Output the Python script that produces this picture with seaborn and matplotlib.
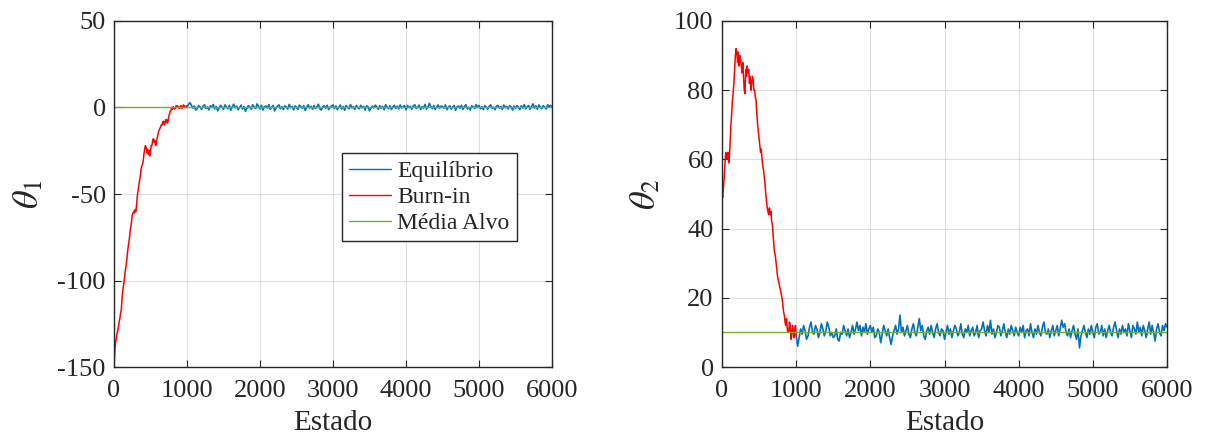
import numpy as np
import matplotlib
matplotlib.use("Agg")
import matplotlib.pyplot as plt
import seaborn as sns

# ---------------- data ----------------
burn_states = list(range(0, 1001, 10))
eq_states = list(range(1000, 6001, 20))
target_states = [0, 6000]

theta1_burn = [-150, -142, -136, -134, -131, -129, -127, -124, -122, -119,
               -117, -110, -106, -103, -100, -96, -93, -90, -86, -82,
               -79, -76, -72, -69, -66, -62, -61, -60, -61, -59,
               -60, -56, -51, -48, -45, -42, -40, -36, -34, -33,
               -31, -27, -24, -22, -23, -26, -24, -27, -25, -28,
               -25, -22, -22, -19, -18, -20, -19, -22, -21, -18,
               -16, -14, -13, -12, -11, -10, -10, -8, -8, -10,
               -9, -7, -7, -9, -8, -5, -4, -2, -2, 0,
               -1, 0.5, 0, -1, -0.5, 1, 0, 1, 0.5, -0.5,
               -0.5, 1, 1, -0.5, 0, 1.5, 1.2, 0, 0.3, 1, 0.5]

theta1_eq = [0.5, 1.8, 2.8, 1.2, -0.3, 0.9, -1.5, -0.6, 1.1, 0.4, -1.2, 0.8, 1.6, -0.5, 0.3, -1.4, 1.0, 0.2, 1.7, -0.8, 0.6, -1.9, -0.4, 1.3, 0.1,
             -1.0, 1.5, 0.4, -0.7, 1.2, -1.6, 0.5, 1.9, -0.2, 0.8, -1.3, 0.0, 1.4, -0.9, 0.6, -2.2, -0.5, 1.1, 0.3, -1.1, 1.6, 0.2, -0.6, 2.1, 0.7,
             -0.8, 1.3, -1.5, 0.4, 0.9, -0.4, 1.7, -1.0, 0.2, 1.2, -2.0, -0.3, 0.8, 1.5, -0.7, 0.5, -1.2, 1.0, 0.3, -0.9, 1.8, -0.1, 0.6, -1.4, 0.9,
             0.2, -1.1, 1.4, 0.6, -0.5, 1.1, -1.7, 0.3, 1.6, -0.3, 0.7, -1.0, 1.2, -0.6, 0.4, 1.9, -0.8, -1.5, 0.5, 1.0, -0.4, 1.3, -1.2, 0.1, 0.8,
             1.5, -0.6, 0.9, -1.3, 0.3, 1.4, -0.9, 0.6, -1.6, 1.1, 0.2, -0.7, 1.7, -0.3, 0.5, -1.1, 1.2, 0.0, -0.8, 1.3, -0.2, 0.7, -1.4, 1.0, 0.4,
             -1.8, -0.5, 0.9, -0.2, 1.4, 0.3, -1.0, 1.1, -0.4, 0.6, -1.3, 1.6, 0.2, -0.7, 1.0, -1.2, 0.4, 1.3, -0.5, 0.8, -0.9, 1.5, -0.3, 0.5, 1.1,
             -1.4, 1.2, -0.1, 0.7, -1.0, 0.9, 1.6, -0.6, 0.2, 1.4, -1.2, 0.5, -0.4, 1.8, -0.9, 0.3, 2.4, 0.6, -0.7, 1.1, -1.1, 0.4, 1.5, -0.5, 0.8,
             0.6, -0.4, 1.5, -1.3, 0.2, 1.0, -0.9, 0.5, 1.2, -1.6, 0.3, 0.9, -0.5, 1.3, -1.1, 0.7, 1.6, -0.8, 0.1, -1.4, 1.0, 0.4, -0.6, 1.7, 0.0,
             1.2, -0.7, 0.5, -1.2, 1.1, 0.3, -1.0, 0.8, 1.5, -0.5, 0.2, -1.3, 0.9, 1.2, -0.4, 0.6, -1.1, 1.4, -0.2, 0.7, -0.9, 1.0, 0.4, -1.5, 0.8,
             -0.6, 1.1, 0.3, -1.2, 1.0, -0.3, 1.7, -0.8, 0.5, 1.2, -1.0, 0.6, 2.1, -0.4, 0.9, -1.0, 1.5, 0.3, -0.7, 1.1, 0.2, -0.9, 1.6, 0.4, 1.2,
             0.7]

theta2_burn = [50, 49, 52, 55, 59, 62, 61, 60, 62, 59,
               61, 65, 70, 73, 77, 79, 82, 86, 90, 92,
               91, 88, 91, 87, 90, 89, 87, 85, 88, 84,
               80, 79, 86, 84, 87, 85, 86, 82, 84, 80,
               82, 84, 83, 80, 80, 78, 77, 73, 70, 68,
               66, 64, 62, 63, 60, 58, 57, 55, 53, 50,
               48, 46, 45, 44, 46, 44, 45, 42, 41, 38,
               35, 33, 32, 30, 28, 26, 25, 24, 23, 22,
               21, 20, 18, 16, 15, 13, 12, 14, 11, 10,
               10, 13, 12, 8, 9, 12, 11, 8.5, 10, 12, 9]

theta2_eq = [9, 6, 8.5, 11, 9.5, 12, 10.5, 8, 9, 11.5, 13, 10, 9.5, 12, 11, 8.5, 10, 12.5, 11, 9, 10.5, 13, 11.5, 9, 10,
             8.5, 9, 11, 8, 7.5, 10, 9.5, 12, 10.5, 9, 11, 8.5, 10, 12, 9.5, 11, 13, 10.5, 12, 9, 11.5, 10, 12.5, 9.5, 11,
             12, 10, 11.5, 8.5, 9, 11, 10, 7, 9.5, 12, 10.5, 9, 11, 8.5, 6.5, 9, 10.5, 12, 9.5, 11, 15, 10, 11.5, 9, 10.5,
             12, 9.5, 8.5, 11, 12.5, 10, 9, 11.5, 14, 10.5, 12, 9, 8, 10.5, 11.5, 9.5, 12, 10, 8.5, 11, 12.5, 10, 9, 11, 10.5,
             8, 10, 12, 9.5, 11, 8.5, 10.5, 12, 11, 9, 10, 12.5, 9.5, 8.5, 11, 10, 12, 9, 10.5, 11.5, 9, 10, 12, 8.5, 10.5,
             11, 13, 10.5, 9, 12, 10, 13.5, 9.5, 11, 8.5, 10, 12, 11.5, 9, 10.5, 12.5, 10, 8.5, 11, 9.5, 12, 10.5, 9, 11.5, 10,
             9, 11.5, 10, 12, 8.5, 10.5, 11, 9, 12.5, 10, 8.5, 11, 9.5, 12, 10, 9, 11.5, 13, 10, 9.5, 11, 8.5, 10.5, 12, 9,
             10.5, 12, 9, 11, 13.5, 11.5, 12.5, 10, 9, 11, 8.5, 10.5, 12, 9.5, 8, 11, 5.5, 9, 10.5, 12, 10, 8.5, 11, 9.5, 12,
             10, 8.5, 11.5, 12.5, 9.5, 10, 12, 9, 11, 8.5, 10.5, 12, 10, 9, 11.5, 13, 10.5, 8.5, 11, 9.5, 12, 10, 11, 9, 12.5,
             10.5, 8.5, 12, 11, 9.5, 13, 10, 11.5, 9, 12, 10.5, 8.5, 11, 13, 9.5, 12, 10, 7.5, 11, 12.5, 10, 9, 12, 10.5, 12.5,
             11.5]

target_theta1 = [0, 0]
target_theta2 = [10, 10]

labels = ["Equilíbrio", "Burn-in", "Média Alvo"]
ylabels = [r"$\theta_1$", r"$\theta_2$"]
xlabel = "Estado"
xticks = [0, 1000, 2000, 3000, 4000, 5000, 6000]
yticks1 = [-150, -100, -50, 0, 50]
yticks2 = [0, 20, 40, 60, 80, 100]

# ---------------- style ----------------
sns.set_theme(style="white")
plt.rcParams["font.family"] = ["Liberation Serif", "DejaVu Serif"]
plt.rcParams["mathtext.fontset"] = "stix"

c_eq = "#0072BD"
c_burn = "#FF0000"
c_target = "#77AC30"
axcol = "#262626"

fig = plt.figure(figsize=(12.06, 4.36), dpi=100)
ax1 = fig.add_axes([114 / 1206, 1 - 367 / 436, 438 / 1206, 346 / 436])
ax2 = fig.add_axes([722 / 1206, 1 - 367 / 436, 445 / 1206, 346 / 436])

panels = [
    (ax1, theta1_eq, theta1_burn, target_theta1, yticks1, ylabels[0]),
    (ax2, theta2_eq, theta2_burn, target_theta2, yticks2, ylabels[1]),
]

for ax, eq, burn, tgt, yt, yl in panels:
    sns.lineplot(x=eq_states, y=eq, ax=ax, color=c_eq, linewidth=1.2, label=labels[0])
    sns.lineplot(x=burn_states, y=burn, ax=ax, color=c_burn, linewidth=1.1, label=labels[1])
    sns.lineplot(x=target_states, y=tgt, ax=ax, color=c_target, linewidth=1.0, label=labels[2])
    ax.set_xlim(0, 6000)
    ax.set_ylim(yt[0], yt[-1])
    ax.set_xticks(xticks)
    ax.set_yticks(yt)
    ax.set_xticklabels([str(v) for v in xticks])
    ax.set_yticklabels([str(v) for v in yt])
    ax.grid(True, color="#000000", alpha=0.12, linewidth=0.8)
    ax.set_axisbelow(True)
    for s in ax.spines.values():
        s.set_visible(True)
        s.set_color(axcol)
        s.set_linewidth(1.0)
    ax.tick_params(direction="in", length=5, width=0.8, colors=axcol,
                   top=True, right=True, bottom=True, left=True,
                   labelsize=19, labelcolor=axcol)
    ax.tick_params(axis="x", pad=9)
    ax.tick_params(axis="y", pad=6)
    ax.set_xlabel(xlabel, fontsize=21, color=axcol, labelpad=6)
    ax.set_ylabel(yl, fontsize=26, color=axcol, labelpad=8)

leg = ax1.legend(loc="upper left", bbox_to_anchor=(0.52, 0.618), borderaxespad=0,
                 fontsize=17, frameon=True, fancybox=False, shadow=False,
                 handlelength=1.8, handletextpad=0.25, labelspacing=0.2,
                 borderpad=0.3)
leg.get_frame().set_edgecolor(axcol)
leg.get_frame().set_linewidth(1.0)
leg.get_frame().set_facecolor("white")
leg.get_frame().set_alpha(1.0)
for line in leg.get_lines():
    line.set_linewidth(1.0)
if ax2.get_legend() is not None:
    ax2.get_legend().remove()

fig.savefig("out.png", dpi=100)
